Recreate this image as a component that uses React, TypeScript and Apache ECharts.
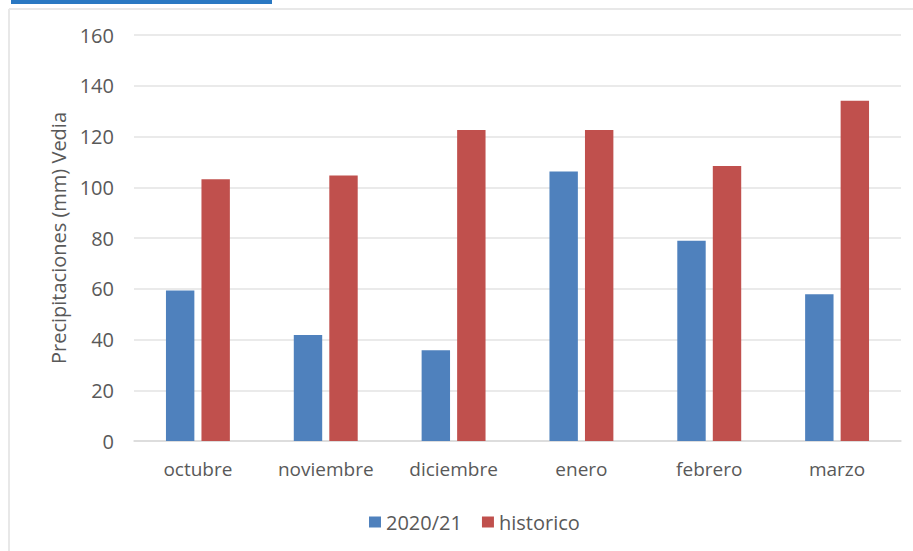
import React, { useEffect, useRef } from "react";
import * as echarts from "echarts";

const categories = ["octubre", "noviembre", "diciembre", "enero", "febrero", "marzo"];
const serie2020 = [59.3, 41.8, 35.8, 106.2, 78.9, 57.8];
const historico = [103.2, 104.6, 122.6, 122.6, 108.4, 134.1];
const seriesNames = ["2020/21", "historico"];
const yAxisName = "Precipitaciones (mm) Vedia";

const FONT = "'Open Sans', sans-serif";
const TEXT = "#595959";

export default function App() {
  const ref = useRef<HTMLDivElement>(null);
  useEffect(() => {
    if (!ref.current) return;
    const chart = echarts.init(ref.current, undefined, { renderer: "svg" });
    chart.setOption({
      animation: false,
      backgroundColor: "#ffffff",
      textStyle: { fontFamily: FONT, color: TEXT },
      graphic: [
        { type: "rect", shape: { x: 11, y: 0, width: 261, height: 4 }, style: { fill: "#2a78c2" } },
        { type: "line", shape: { x1: 9, y1: 9, x2: 913, y2: 9 }, style: { stroke: "#e8e8e8", lineWidth: 2 } },
        { type: "line", shape: { x1: 9, y1: 9, x2: 9, y2: 551 }, style: { stroke: "#e8e8e8", lineWidth: 2 } },
      ],
      grid: { left: 134, right: 12, top: 35, bottom: 110 },
      legend: {
        data: seriesNames,
        top: 507,
        left: 364,
        itemWidth: 12,
        itemHeight: 11,
        itemGap: 20,
        icon: "rect",
        textStyle: { fontFamily: FONT, fontSize: 20, color: TEXT },
      },
      xAxis: {
        type: "category",
        data: categories,
        axisLine: { lineStyle: { color: "#d9d9d9", width: 1.5 } },
        axisTick: { show: false },
        axisLabel: { fontFamily: FONT, fontSize: 19, color: TEXT, margin: 18, interval: 0 },
      },
      yAxis: {
        type: "value",
        min: 0,
        max: 160,
        interval: 20,
        name: yAxisName,
        nameLocation: "middle",
        nameGap: 64,
        nameTextStyle: { fontFamily: FONT, fontSize: 20, color: TEXT },
        axisLine: { show: false },
        axisTick: { show: false },
        axisLabel: { fontFamily: FONT, fontSize: 20, color: TEXT, margin: 20 },
        splitLine: { lineStyle: { color: "#e3e3e3", width: 1.5 } },
      },
      series: [
        {
          name: seriesNames[0],
          type: "bar",
          data: serie2020,
          itemStyle: { color: "#4F81BD" },
          barGap: "25%",
          barCategoryGap: "50%",
        },
        {
          name: seriesNames[1],
          type: "bar",
          data: historico,
          itemStyle: { color: "#C0504D" },
          barGap: "25%",
          barCategoryGap: "50%",
        },
      ],
    });
    return () => chart.dispose();
  }, []);
  return (
    <div
      ref={ref}
      style={{ position: "fixed", left: 0, top: 0, width: 913, height: 551 }}
    />
  );
}
